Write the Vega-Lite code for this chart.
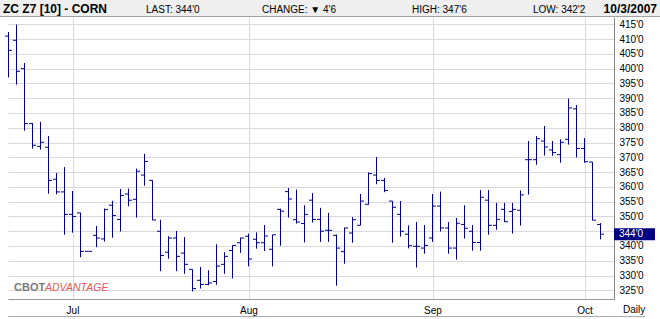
{
  "$schema": "https://vega.github.io/schema/vega-lite/v6.json",
  "width": 606,
  "height": 282,
  "autosize": {"type": "none"},
  "padding": {"left": 8, "top": 17, "right": 46, "bottom": 20},
  "background": "#ffffff",
  "config": {"view": {"stroke": null}, "font": "Liberation Sans"},
  "resolve": {"axis": {"x": "independent", "y": "independent"}},
  "data": {
    "values": [
      {"i": 0, "o": 411.0, "h": 412.4, "l": 397.0, "c": 406.2},
      {"i": 1, "o": 409.6, "h": 414.9, "l": 394.6, "c": 399.1},
      {"i": 2, "o": 400.0, "h": 401.9, "l": 379.0, "c": 381.4},
      {"i": 3, "o": 381.4, "h": 381.6, "l": 372.9, "c": 374.1},
      {"i": 4, "o": 373.7, "h": 382.0, "l": 372.6, "c": 375.1},
      {"i": 5, "o": 373.4, "h": 377.2, "l": 357.7, "c": 362.2},
      {"i": 6, "o": 362.6, "h": 364.7, "l": 357.5, "c": 358.3},
      {"i": 7, "o": 358.3, "h": 366.7, "l": 343.8, "c": 350.7},
      {"i": 8, "o": 350.7, "h": 358.6, "l": 344.5, "c": 350.0},
      {"i": 9, "o": 351.2, "h": 351.3, "l": 336.2, "c": 338.2},
      {"i": 10, "o": 338.2, "h": 338.2, "l": 338.2, "c": 338.2},
      {"i": 11, "o": 343.6, "h": 346.8, "l": 339.6, "c": 342.7},
      {"i": 12, "o": 342.4, "h": 352.7, "l": 341.5, "c": 352.3},
      {"i": 13, "o": 353.8, "h": 355.3, "l": 342.8, "c": 350.3},
      {"i": 14, "o": 349.0, "h": 359.3, "l": 344.9, "c": 357.1},
      {"i": 15, "o": 357.6, "h": 359.4, "l": 353.4, "c": 355.5},
      {"i": 16, "o": 355.8, "h": 366.2, "l": 349.6, "c": 365.3},
      {"i": 17, "o": 364.0, "h": 371.2, "l": 360.4, "c": 368.6},
      {"i": 18, "o": 362.2, "h": 362.2, "l": 348.8, "c": 348.8},
      {"i": 19, "o": 345.0, "h": 348.9, "l": 331.5, "c": 336.8},
      {"i": 20, "o": 337.9, "h": 343.3, "l": 335.7, "c": 342.7},
      {"i": 21, "o": 342.7, "h": 345.1, "l": 331.5, "c": 336.5},
      {"i": 22, "o": 337.6, "h": 343.0, "l": 330.6, "c": 333.8},
      {"i": 23, "o": 332.1, "h": 332.1, "l": 324.6, "c": 325.6},
      {"i": 24, "o": 328.4, "h": 332.9, "l": 325.6, "c": 327.0},
      {"i": 25, "o": 327.0, "h": 331.8, "l": 326.7, "c": 327.5},
      {"i": 26, "o": 328.0, "h": 340.6, "l": 326.9, "c": 333.2},
      {"i": 27, "o": 333.8, "h": 337.9, "l": 330.6, "c": 336.5},
      {"i": 28, "o": 338.5, "h": 340.2, "l": 329.0, "c": 340.2},
      {"i": 29, "o": 341.1, "h": 342.8, "l": 337.7, "c": 342.7},
      {"i": 30, "o": 343.3, "h": 344.2, "l": 333.1, "c": 335.6},
      {"i": 31, "o": 342.3, "h": 344.6, "l": 339.1, "c": 341.1},
      {"i": 32, "o": 341.1, "h": 347.1, "l": 338.3, "c": 343.4},
      {"i": 33, "o": 338.9, "h": 343.8, "l": 333.1, "c": 343.8},
      {"i": 34, "o": 352.4, "h": 352.6, "l": 340.1, "c": 351.8},
      {"i": 35, "o": 358.4, "h": 359.6, "l": 349.6, "c": 355.9},
      {"i": 36, "o": 348.9, "h": 359.1, "l": 347.6, "c": 348.1},
      {"i": 37, "o": 347.6, "h": 353.8, "l": 341.2, "c": 350.7},
      {"i": 38, "o": 355.5, "h": 357.9, "l": 347.9, "c": 349.0},
      {"i": 39, "o": 349.0, "h": 352.9, "l": 341.4, "c": 345.0},
      {"i": 40, "o": 345.3, "h": 351.2, "l": 341.4, "c": 345.3},
      {"i": 41, "o": 343.6, "h": 343.9, "l": 326.6, "c": 339.3},
      {"i": 42, "o": 338.1, "h": 346.2, "l": 334.0, "c": 346.1},
      {"i": 43, "o": 344.4, "h": 349.8, "l": 341.1, "c": 348.9},
      {"i": 44, "o": 347.0, "h": 357.6, "l": 347.0, "c": 355.2},
      {"i": 45, "o": 354.1, "h": 364.9, "l": 354.0, "c": 364.5},
      {"i": 46, "o": 364.0, "h": 370.1, "l": 360.9, "c": 362.2},
      {"i": 47, "o": 362.2, "h": 363.0, "l": 358.2, "c": 358.8},
      {"i": 48, "o": 355.2, "h": 355.2, "l": 341.1, "c": 353.1},
      {"i": 49, "o": 350.7, "h": 355.2, "l": 343.2, "c": 345.0},
      {"i": 50, "o": 344.0, "h": 347.0, "l": 339.2, "c": 340.1},
      {"i": 51, "o": 339.9, "h": 348.1, "l": 332.7, "c": 339.9},
      {"i": 52, "o": 339.3, "h": 347.1, "l": 337.4, "c": 340.2},
      {"i": 53, "o": 342.7, "h": 357.6, "l": 341.4, "c": 353.5},
      {"i": 54, "o": 353.5, "h": 358.4, "l": 344.9, "c": 346.1},
      {"i": 55, "o": 346.1, "h": 348.1, "l": 337.4, "c": 339.3},
      {"i": 56, "o": 339.3, "h": 349.5, "l": 335.4, "c": 347.7},
      {"i": 57, "o": 347.3, "h": 353.8, "l": 342.5, "c": 346.0},
      {"i": 58, "o": 345.0, "h": 347.1, "l": 338.4, "c": 341.2},
      {"i": 59, "o": 341.2, "h": 358.9, "l": 338.4, "c": 356.5},
      {"i": 60, "o": 355.5, "h": 358.9, "l": 343.8, "c": 347.0},
      {"i": 61, "o": 347.0, "h": 354.6, "l": 345.5, "c": 349.0},
      {"i": 62, "o": 352.4, "h": 354.6, "l": 348.1, "c": 348.2},
      {"i": 63, "o": 351.7, "h": 354.6, "l": 344.2, "c": 352.4},
      {"i": 64, "o": 352.1, "h": 358.8, "l": 346.9, "c": 357.3},
      {"i": 65, "o": 369.2, "h": 375.5, "l": 357.4, "c": 369.2},
      {"i": 66, "o": 369.2, "h": 377.2, "l": 367.5, "c": 376.3},
      {"i": 67, "o": 375.5, "h": 380.6, "l": 370.6, "c": 373.5},
      {"i": 68, "o": 372.5, "h": 375.5, "l": 370.5, "c": 371.6},
      {"i": 69, "o": 370.9, "h": 376.1, "l": 368.2, "c": 375.1},
      {"i": 70, "o": 376.1, "h": 389.9, "l": 374.3, "c": 386.7},
      {"i": 71, "o": 386.4, "h": 387.7, "l": 370.0, "c": 373.0},
      {"i": 72, "o": 373.0, "h": 376.5, "l": 368.2, "c": 368.5},
      {"i": 73, "o": 368.4, "h": 368.4, "l": 348.7, "c": 348.75},
      {"i": 74, "o": 347.3, "h": 347.75, "l": 342.25, "c": 344.0}
    ]
  },
  "layer": [
    {
      "transform": [{"filter": "datum.i == 74"}],
      "mark": {"type": "rect", "fill": "#efefef", "stroke": "#a0a0a0", "strokeWidth": 1, "clip": false},
      "encoding": {
        "x": {"datum": -1.1875, "type": "quantitative", "scale": {"domain": [-0.0625, 75.6875], "nice": false, "zero": false}, "axis": null},
        "x2": {"datum": 81.5625},
        "y": {"datum": 417.64, "type": "quantitative", "scale": {"domain": [322.07, 417.47], "nice": false, "zero": false}, "axis": null},
        "y2": {"datum": 424.5}
      }
    },
    {
      "mark": {"type": "rule", "color": "#00008b", "strokeWidth": 1},
      "encoding": {
        "x": {
          "field": "i",
          "type": "quantitative",
          "scale": {"domain": [-0.0625, 75.6875], "nice": false, "zero": false},
          "axis": {
            "orient": "bottom",
            "title": null,
            "values": [8, 30, 53, 72],
            "labelExpr": "datum.value == 8 ? 'Jul' : datum.value == 30 ? 'Aug' : datum.value == 53 ? 'Sep' : 'Oct'",
            "labelOverlap": false,
            "grid": true,
            "gridColor": "#d9d9d9",
            "gridWidth": 1,
            "ticks": false,
            "domainColor": "#999999",
            "domainWidth": 1,
            "labelFont": "Liberation Sans",
            "labelFontSize": 10,
            "labelColor": "#000000",
            "labelPadding": 6,
            "labelFlush": false
          }
        },
        "y": {
          "field": "l",
          "type": "quantitative",
          "scale": {"domain": [322.07, 417.47], "nice": false, "zero": false},
          "axis": {
            "orient": "right",
            "title": null,
            "values": [325, 330, 335, 340, 345, 350, 355, 360, 365, 370, 375, 380, 385, 390, 395, 400, 405, 410, 415],
            "labelExpr": "datum.value == 345 ? '' : datum.value + \"'0\"",
            "labelOverlap": false,
            "grid": true,
            "gridColor": "#d9d9d9",
            "gridWidth": 1,
            "ticks": false,
            "domainColor": "#888888",
            "domainWidth": 1,
            "labelFont": "Liberation Sans",
            "labelFontSize": 10,
            "labelColor": "#000000",
            "labelPadding": 5,
            "labelAlign": "left",
            "labelBaseline": "middle"
          }
        },
        "y2": {"field": "h"}
      }
    },
    {
      "mark": {"type": "tick", "orient": "horizontal", "size": 3.5, "thickness": 1, "color": "#00008b", "opacity": 1, "xOffset": -1.75},
      "encoding": {
        "x": {"field": "i", "type": "quantitative", "axis": null},
        "y": {"field": "o", "type": "quantitative", "axis": null}
      }
    },
    {
      "mark": {"type": "tick", "orient": "horizontal", "size": 3.5, "thickness": 1, "color": "#00008b", "opacity": 1, "xOffset": 1.75},
      "encoding": {
        "x": {"field": "i", "type": "quantitative", "axis": null},
        "y": {"field": "c", "type": "quantitative", "axis": null}
      }
    },
    {
      "transform": [{"filter": "datum.i == 74"}],
      "mark": {"type": "text", "font": "Liberation Sans", "fontSize": 11, "fontWeight": "bold", "color": "#7a7a7a", "align": "left", "baseline": "middle"},
      "encoding": {
        "x": {"datum": 0.69, "type": "quantitative", "axis": null},
        "y": {"datum": 325.8, "type": "quantitative", "axis": null},
        "text": {"value": "CBOT"}
      }
    },
    {
      "transform": [{"filter": "datum.i == 74"}],
      "mark": {"type": "text", "font": "Liberation Sans", "fontSize": 10.5, "fontStyle": "italic", "color": "#de5a5a", "align": "left", "baseline": "middle"},
      "encoding": {
        "x": {"datum": 4.56, "type": "quantitative", "axis": null},
        "y": {"datum": 325.8, "type": "quantitative", "axis": null},
        "text": {"value": "ADVANTAGE"}
      }
    },
    {
      "transform": [{"filter": "datum.i == 74"}],
      "mark": {"type": "rect", "fill": "#000080", "clip": false},
      "encoding": {
        "x": {"datum": 75.69, "type": "quantitative", "axis": null},
        "x2": {"datum": 80.81},
        "y": {"datum": 341.97, "type": "quantitative", "axis": null},
        "y2": {"datum": 346.03}
      }
    },
    {
      "transform": [{"filter": "datum.i == 74"}],
      "mark": {"type": "text", "font": "Liberation Sans", "fontSize": 10, "color": "#ffffff", "align": "left", "baseline": "middle", "clip": false},
      "encoding": {
        "x": {"datum": 76.31, "type": "quantitative", "axis": null},
        "y": {"field": "c", "type": "quantitative", "axis": null},
        "text": {"value": "344'0"}
      }
    },
    {
      "transform": [{"filter": "datum.i == 74"}],
      "mark": {"type": "text", "font": "Liberation Sans", "fontSize": 10, "color": "#000000", "align": "center", "baseline": "middle", "clip": false},
      "encoding": {
        "x": {"datum": 78.19, "type": "quantitative", "axis": null},
        "y": {"datum": 318.3, "type": "quantitative", "axis": null},
        "text": {"value": "Daily"}
      }
    },
    {
      "transform": [{"filter": "datum.i == 74"}],
      "mark": {"type": "rule", "color": "#aaaaaa", "strokeWidth": 1, "clip": false},
      "encoding": {
        "x": {"datum": -0.06, "type": "quantitative", "axis": null},
        "x2": {"datum": 79.6},
        "y": {"datum": 316.15, "type": "quantitative", "axis": null}
      }
    },
    {
      "transform": [{"filter": "datum.i == 74"}],
      "mark": {"type": "text", "font": "Liberation Sans", "fontSize": 12, "fontWeight": "bold", "color": "#000000", "align": "left", "baseline": "alphabetic", "clip": false},
      "encoding": {
        "x": {"datum": -0.6875, "type": "quantitative", "axis": null},
        "y": {"datum": 418.82, "type": "quantitative", "axis": null},
        "text": {"value": "ZC Z7 [10] - CORN"}
      }
    },
    {
      "transform": [{"filter": "datum.i == 74"}],
      "mark": {"type": "text", "font": "Liberation Sans", "fontSize": 10, "color": "#000000", "align": "left", "baseline": "alphabetic", "clip": false},
      "encoding": {
        "x": {"datum": 17.1875, "type": "quantitative", "axis": null},
        "y": {"datum": 418.82, "type": "quantitative", "axis": null},
        "text": {"value": "LAST: 344'0"}
      }
    },
    {
      "transform": [{"filter": "datum.i == 74"}],
      "mark": {"type": "text", "font": "Liberation Sans", "fontSize": 10, "color": "#000000", "align": "left", "baseline": "alphabetic", "clip": false},
      "encoding": {
        "x": {"datum": 31.6875, "type": "quantitative", "axis": null},
        "y": {"datum": 418.82, "type": "quantitative", "axis": null},
        "text": {"value": "CHANGE: \u25bc 4'6"}
      }
    },
    {
      "transform": [{"filter": "datum.i == 74"}],
      "mark": {"type": "text", "font": "Liberation Sans", "fontSize": 10, "color": "#000000", "align": "left", "baseline": "alphabetic", "clip": false},
      "encoding": {
        "x": {"datum": 50.4375, "type": "quantitative", "axis": null},
        "y": {"datum": 418.82, "type": "quantitative", "axis": null},
        "text": {"value": "HIGH: 347'6"}
      }
    },
    {
      "transform": [{"filter": "datum.i == 74"}],
      "mark": {"type": "text", "font": "Liberation Sans", "fontSize": 10, "color": "#000000", "align": "left", "baseline": "alphabetic", "clip": false},
      "encoding": {
        "x": {"datum": 65.5625, "type": "quantitative", "axis": null},
        "y": {"datum": 418.82, "type": "quantitative", "axis": null},
        "text": {"value": "LOW: 342'2"}
      }
    },
    {
      "transform": [{"filter": "datum.i == 74"}],
      "mark": {"type": "text", "font": "Liberation Sans", "fontSize": 12, "fontWeight": "bold", "color": "#000000", "align": "right", "baseline": "alphabetic", "clip": false},
      "encoding": {
        "x": {"datum": 81.0625, "type": "quantitative", "axis": null},
        "y": {"datum": 418.82, "type": "quantitative", "axis": null},
        "text": {"value": "10/3/2007"}
      }
    }
  ]
}
